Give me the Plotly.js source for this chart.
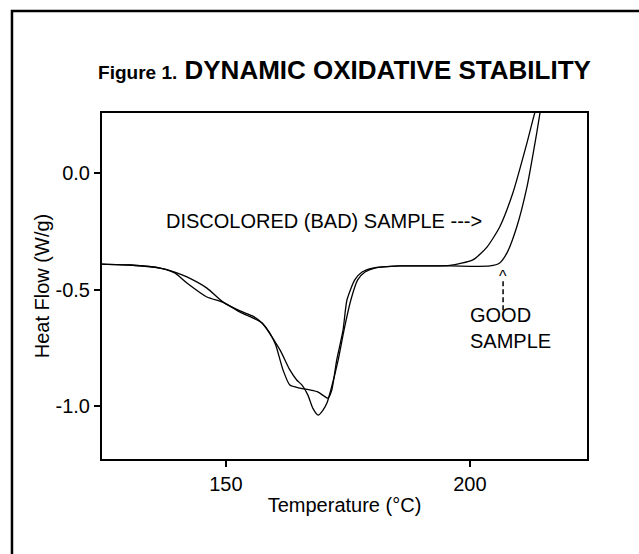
<!DOCTYPE html>
<html>
<head>
<meta charset="utf-8">
<script src="https://cdn.plot.ly/plotly-3.0.1.min.js"></script>
<style>html,body{margin:0;padding:0;background:#fff;}#chart{width:639px;height:554px;}</style>
</head>
<body>
<div id="chart"></div>
<script>
// Discolored (bad) sample: shoulder near the minimum, early exotherm onset
var badTemp = [124.6,130.3,136.5,139.5,142.0,146.1,149.4,152.9,155.5,157.4,159.0,160.2,161.7,163.1,165.2,167.2,168.9,170.9,171.7,172.7,174.0,174.8,176.4,177.9,180.1,185.7,191.8,195.9,200.6,203.5,206.1,208.8,211.7,213.3,214.3];
var badHeat = [-0.391,-0.395,-0.408,-0.425,-0.446,-0.494,-0.554,-0.592,-0.614,-0.644,-0.687,-0.738,-0.845,-0.910,-0.923,-0.931,-0.940,-0.966,-0.931,-0.803,-0.674,-0.545,-0.459,-0.425,-0.408,-0.399,-0.399,-0.397,-0.373,-0.318,-0.232,-0.086,0.129,0.258,0.320];
// Good sample: deeper minimum, later exotherm onset
var goodTemp = [124.6,130.3,136.5,139.5,142.0,146.1,149.4,152.9,155.5,157.4,161.1,163.1,164.5,165.6,166.8,167.8,168.9,169.9,170.7,171.5,173.0,174.2,175.6,177.0,178.5,180.5,185.7,195.9,204.1,206.1,207.6,209.6,211.7,213.7,214.8];
var goodHeat = [-0.391,-0.395,-0.408,-0.429,-0.472,-0.532,-0.554,-0.597,-0.622,-0.644,-0.760,-0.845,-0.888,-0.910,-0.953,-1.009,-1.039,-1.017,-0.987,-0.931,-0.803,-0.674,-0.545,-0.459,-0.425,-0.408,-0.399,-0.399,-0.399,-0.386,-0.343,-0.232,-0.060,0.172,0.313];

var xTickVals = [150, 200];
var xTickText = ['150', '200'];
var yTickVals = [0, -0.5, -1.0];
var yTickText = ['0.0', '-0.5', '-1.0'];

var FONT = 'Liberation Sans, Arial, Helvetica, sans-serif';

var traces = [
  {x: badTemp, y: badHeat, mode: 'lines', name: 'Discolored (bad) sample',
   line: {color: '#000', width: 1.3, shape: 'spline', smoothing: 0.6}, hoverinfo: 'x+y'},
  {x: goodTemp, y: goodHeat, mode: 'lines', name: 'Good sample',
   line: {color: '#000', width: 1.3, shape: 'spline', smoothing: 0.6}, hoverinfo: 'x+y'}
];

var layout = {
  width: 639, height: 554,
  margin: {l: 102, r: 52, t: 113, b: 95},
  paper_bgcolor: '#fff', plot_bgcolor: '#fff',
  showlegend: false,
  font: {family: FONT, color: '#000', size: 20},
  title: {
    text: '<b><span style="font-size:19px">Figure 1.</span> DYNAMIC OXIDATIVE STABILITY</b>',
    font: {family: FONT, size: 26, color: '#000'},
    x: 0.5, xref: 'paper', xanchor: 'center',
    y: 1 - 70/554, yref: 'container', yanchor: 'middle'
  },
  xaxis: {
    range: [124.6, 224.0],
    tickvals: xTickVals, ticktext: xTickText,
    ticks: 'outside', ticklen: 6, tickwidth: 2, tickcolor: '#000',
    showline: true, linewidth: 2, linecolor: '#000', mirror: true,
    showgrid: false, zeroline: false,
    tickfont: {family: FONT, size: 20, color: '#000'},
    title: {text: 'Temperature (°C)', font: {family: FONT, size: 20, color: '#000'}, standoff: 4}
  },
  yaxis: {
    range: [-1.227, 0.257],
    tickvals: yTickVals, ticktext: yTickText,
    ticks: 'outside', ticklen: 6, tickwidth: 2, tickcolor: '#000',
    showline: true, linewidth: 2, linecolor: '#000', mirror: true,
    showgrid: false, zeroline: false,
    tickfont: {family: FONT, size: 20, color: '#000'},
    title: {text: 'Heat Flow (W/g)', font: {family: FONT, size: 20, color: '#000'}, standoff: 1}
  },
  shapes: [
    {type: 'rect', xref: 'paper', yref: 'paper', x0: -0.1856, x1: 1.2, y0: -0.35, y1: 1.2948,
     line: {color: '#000', width: 2.5}, fillcolor: 'rgba(0,0,0,0)', layer: 'below'},
    {type: 'line', xref: 'x', yref: 'y', x0: 206.8, x1: 206.8, y0: -0.465, y1: -0.597,
     line: {color: '#000', width: 1.5, dash: '5px,3px'}}
  ],
  annotations: [
    {text: 'DISCOLORED (BAD) SAMPLE --->', xref: 'x', yref: 'y', x: 137.3, y: -0.206,
     xanchor: 'left', yanchor: 'middle', showarrow: false, font: {family: FONT, size: 20, color: '#000'}},
    {text: 'GOOD<br>SAMPLE', xref: 'x', yref: 'y', x: 199.7, y: -0.555, align: 'left',
     xanchor: 'left', yanchor: 'top', showarrow: false, font: {family: FONT, size: 20, color: '#000'}},
    {text: '^', xref: 'x', yref: 'y', x: 206.8, y: -0.445,
     xanchor: 'center', yanchor: 'middle', showarrow: false, font: {family: FONT, size: 16, color: '#000'}}
  ]
};

Plotly.newPlot('chart', traces, layout, {displayModeBar: false, staticPlot: false});
</script>
</body>
</html>
